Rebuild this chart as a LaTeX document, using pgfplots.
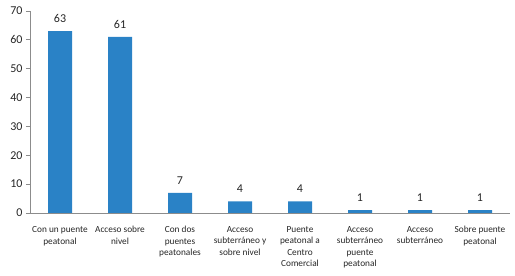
\documentclass[border=0pt]{standalone}
\usepackage{pgfplots}
\pgfplotsset{compat=1.18}
\usepackage{fontspec}
\setmainfont{Carlito}
\definecolor{barblue}{HTML}{2A82C6}
\definecolor{axgray}{HTML}{8C8C8C}
\begin{document}
\begin{tikzpicture}
\begin{axis}[
  scale only axis,
  width=480bp, height=202bp,
  xmin=-0.5, xmax=7.5, ymin=0, ymax=70,
  axis x line*=bottom, axis y line*=left,
  axis line style={axgray, line width=0.8pt},
  ytick={0,10,...,70},
  xtick={0,...,7},
  xticklabels={{Con un puente\\peatonal},{Acceso sobre\\nivel},{Con dos\\puentes\\peatonales},{Acceso\\subterráneo y\\sobre nivel},{Puente\\peatonal a\\Centro\\Comercial},{Acceso\\subterráneo\\puente\\peatonal},{Acceso\\subterráneo},{Sobre puente\\peatonal}},
  x tick label style={align=center, font=\fontsize{9.3bp}{11.5bp}\selectfont, text=black!85, anchor=north, yshift=-6bp},
  y tick label style={font=\fontsize{12bp}{14bp}\selectfont, text=black!85},
  /pgf/number format/assume math mode=true,
  major x tick style={draw=none},
  extra x ticks={0.5,1.5,...,7.5},
  extra x tick labels={},
  extra x tick style={major tick length=4bp, tick style={axgray, line width=0.8pt}, xtick align=outside},
  ytick align=outside, major tick length=4bp,
  tick style={axgray, line width=0.8pt},
  ybar, bar width=24bp,
  nodes near coords,
  every node near coord/.append style={font=\fontsize{12bp}{14bp}\selectfont, text=black!85, yshift=5bp},
  clip=false,
]
\addplot[fill=barblue, draw=none] coordinates {(0,63) (1,61) (2,7) (3,4) (4,4) (5,1) (6,1) (7,1)};
\end{axis}
\path (current axis.south west) ++(-30bp,-63bp) coordinate (bl);
\path (current axis.north east) ++(5bp,11bp) coordinate (tr);
\useasboundingbox (bl) rectangle (tr);
\end{tikzpicture}
\end{document}
